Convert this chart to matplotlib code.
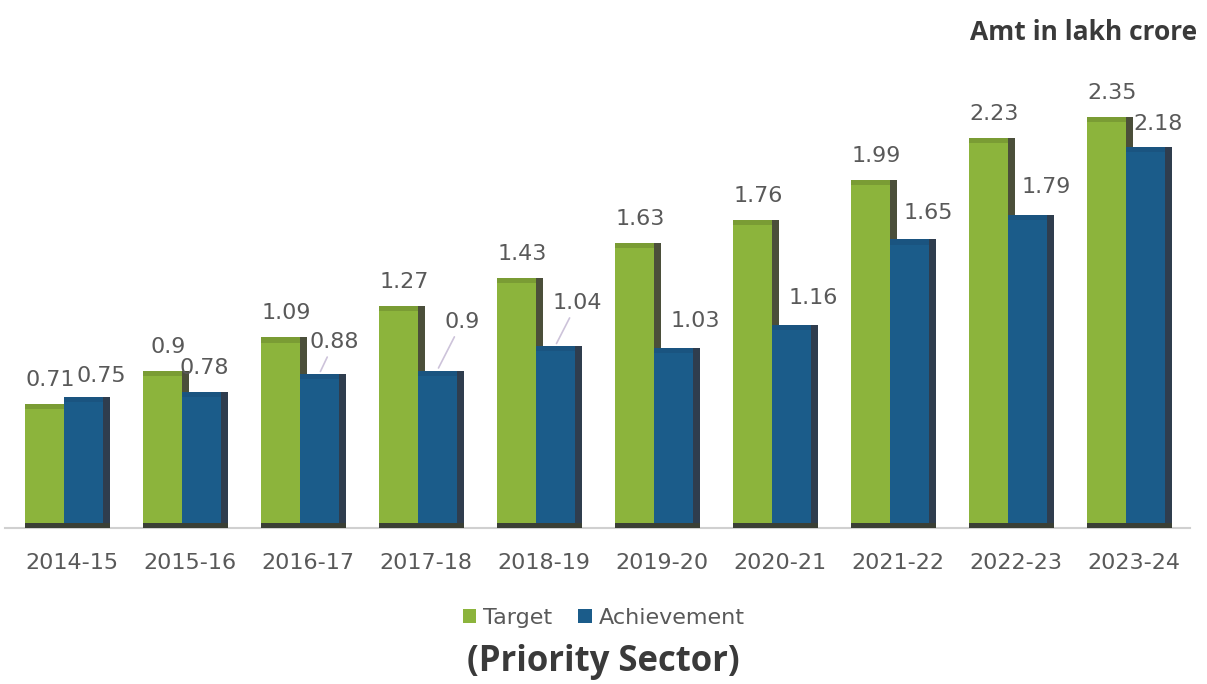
import numpy as np
import matplotlib.pyplot as plt
from matplotlib.patches import Rectangle

years = ['2014-15', '2015-16', '2016-17', '2017-18', '2018-19',
         '2019-20', '2020-21', '2021-22', '2022-23', '2023-24']
target = [0.71, 0.9, 1.09, 1.27, 1.43, 1.63, 1.76, 1.99, 2.23, 2.35]
achievement = [0.75, 0.78, 0.88, 0.9, 1.04, 1.03, 1.16, 1.65, 1.79, 2.18]
target_labels = ['0.71', '0.9', '1.09', '1.27', '1.43', '1.63', '1.76', '1.99', '2.23', '2.35']
achv_labels = ['0.75', '0.78', '0.88', '0.9', '1.04', '1.03', '1.16', '1.65', '1.79', '2.18']

# label offsets (points) for achievement labels, and whether a leader line is drawn
achv_offsets = [(13, 8), (2, 10), (11, 16), (18, 28), (16, 24), (16, 12), (16, 12), (14, 12), (14, 13), (9, 9)]
achv_leader = [False, False, True, True, True, False, False, False, False, False]

green = '#8cb43c'
green_top = '#7a9c34'
green_side = '#4b4f3a'
blue = '#1b5c8a'
blue_top = '#1a5480'
blue_side = '#2f3d4e'
txt_grey = '#595959'

fig = plt.figure(figsize=(12.07, 6.84), dpi=100)
ax = fig.add_axes([5 / 1207, 156 / 684, 1185 / 1207, 455 / 684])

x = np.arange(len(years))
w = 0.33
shift = -0.07
depth = 0.065

def draw_bar(xc, v, face, top, side):
    left = xc - w / 2
    ax.add_patch(Rectangle((left + w, 0), depth, v, facecolor=side, edgecolor='none', zorder=2))
    ax.add_patch(Rectangle((left, 0), w, v, facecolor=face, edgecolor='none', zorder=3))
    ax.add_patch(Rectangle((left, v - 0.03), w, 0.03, facecolor=top, edgecolor='none', zorder=3))
    ax.add_patch(Rectangle((left, 0), w + depth, 0.03, facecolor='#3a3f35', edgecolor='none', zorder=4))

for i in range(len(years)):
    gx = x[i] + shift - w / 2
    bx = x[i] + shift + w / 2
    draw_bar(gx, target[i], green, green_top, green_side)
    draw_bar(bx, achievement[i], blue, blue_top, blue_side)
    ax.annotate(target_labels[i], (gx, target[i]), xytext=(4, 10), textcoords='offset points',
                ha='center', va='bottom', fontsize=16, color=txt_grey)
    dx, dy = achv_offsets[i]
    props = dict(arrowstyle='-', color='#cdc3da', lw=1.2, shrinkA=2, shrinkB=2) if achv_leader[i] else None
    ax.annotate(achv_labels[i], (bx, achievement[i]), xytext=(dx, dy), textcoords='offset points',
                ha='center', va='bottom', fontsize=16, color=txt_grey, arrowprops=props)

ax.set_xlim(-0.568, 9.475)
ax.set_ylim(0, 2.6)
ax.set_xticks(x)
ax.set_xticklabels(years, fontsize=16, color=txt_grey)
ax.tick_params(axis='x', length=0, pad=18)
ax.set_yticks([])
for s in ['top', 'right', 'left']:
    ax.spines[s].set_visible(False)
ax.spines['bottom'].set_color('#d0d0d0')
ax.spines['bottom'].set_linewidth(1.5)

# legend
h1 = Rectangle((0, 0), 1, 1, facecolor=green)
h2 = Rectangle((0, 0), 1, 1, facecolor=blue)
fig.legend([h1, h2], ['Target', 'Achievement'], loc='center', bbox_to_anchor=(0.5, 1 - 618 / 684),
           ncol=2, frameon=False, fontsize=16, handlelength=0.6, handleheight=0.6,
           handletextpad=0.3, columnspacing=1.2, labelcolor=txt_grey)

fig.text(0.5, 1 - 662 / 684, '(Priority Sector)', ha='center', va='center',
         fontsize=25, fontweight='bold', color='#3a3a3a', family='Open Sans')
fig.text(1197 / 1207, 1 - 32 / 684, 'Amt in lakh crore', ha='right', va='center',
         fontsize=19, fontweight='bold', color='#3a3a3a', family='Open Sans')

fig.savefig('out.png', dpi=100)
